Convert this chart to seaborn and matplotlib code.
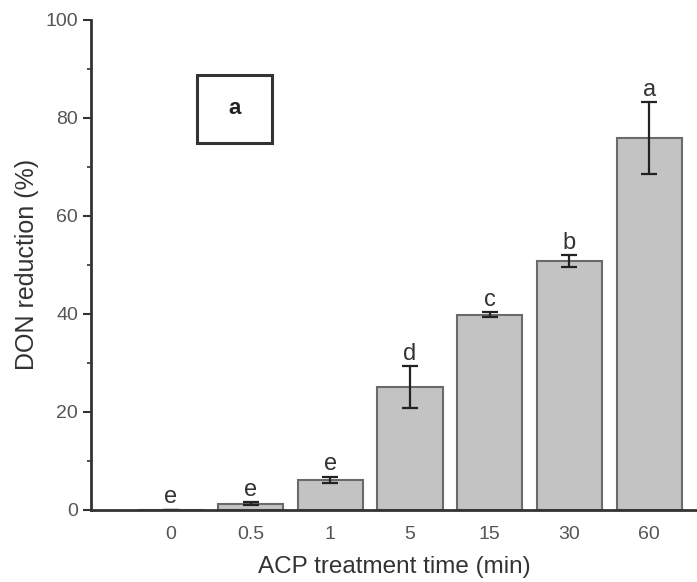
import numpy as np
import pandas as pd
import matplotlib
matplotlib.use("Agg")
import matplotlib.pyplot as plt
from matplotlib.patches import Rectangle
import seaborn as sns

# treatment times and DON reduction
times = ["0", "0.5", "1", "5", "15", "30", "60"]
reduction = [0.0, 1.2, 6.1, 25.0, 39.8, 50.7, 75.9]
err = [0.0, 0.3, 0.7, 4.3, 0.5, 1.2, 7.3]
letters = ["e", "e", "e", "d", "c", "b", "a"]

df = pd.DataFrame({"time": times, "reduction": reduction})

sns.set_style("ticks")
plt.rcParams["font.family"] = ["Liberation Sans", "DejaVu Sans"]

fig, ax = plt.subplots(figsize=(6.97, 5.82), dpi=100)
sns.barplot(data=df, x="time", y="reduction", color="#c3c3c3",
            edgecolor="#6a6a6a", linewidth=1.5, width=0.82,
            saturation=1, errorbar=None, ax=ax)

xs = np.arange(len(times))
ax.errorbar(xs, reduction, yerr=err, fmt="none", ecolor="#222222",
            elinewidth=1.6, capsize=6, capthick=1.6)

for x, y, e, lab in zip(xs, reduction, err, letters):
    ax.text(x, y + e + 0.3, lab, ha="center", va="bottom",
            fontsize=17, color="#333333")

# panel label box
ax.add_patch(Rectangle((0.175, 0.749), 0.124, 0.139, transform=ax.transAxes,
                       facecolor="white", edgecolor="#333333", linewidth=2.2,
                       zorder=5))
ax.text(0.237, 0.818, "a", transform=ax.transAxes, ha="center", va="center",
        fontsize=16, fontweight="bold", color="#222222", zorder=6)

ax.set_xlim(-1, 6.6)
ax.set_ylim(0, 100)
ax.set_yticks([0, 20, 40, 60, 80, 100])
ax.set_yticks([10, 30, 50, 70, 90], minor=True)
ax.tick_params(axis="y", which="major", length=6, width=1.5, labelsize=14,
               colors="#333333", labelcolor="#555555")
ax.tick_params(axis="y", which="minor", length=3, width=1.2, colors="#333333")
ax.tick_params(axis="x", length=0, labelsize=14, labelcolor="#555555", pad=12)
ax.set_xlabel("ACP treatment time (min)", fontsize=17.5, color="#333333",
              labelpad=9)
ax.set_ylabel("DON reduction (%)", fontsize=18, color="#333333", labelpad=5)

sns.despine(ax=ax)
for s in ["left", "bottom"]:
    ax.spines[s].set_linewidth(2)
    ax.spines[s].set_color("#333333")

fig.subplots_adjust(left=0.131, right=1.0, top=0.966, bottom=0.124)
fig.savefig("out.png", dpi=100)
